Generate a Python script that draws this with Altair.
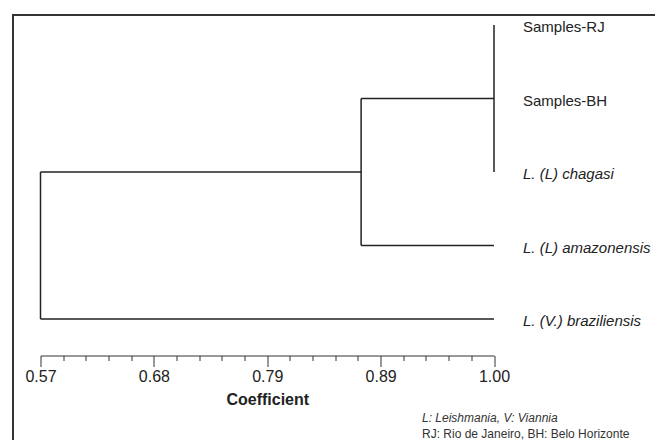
import altair as alt
import pandas as pd

# ---------------- data ----------------
leaves = ["Samples-RJ", "Samples-BH", "L. (L) chagasi", "L. (L) amazonensis", "L. (V.) braziliensis"]
leaf_coefficient = 1.00
# each merge joins existing nodes (leaf ids 0..4, then merge ids 5, 6, ...)
merge_children = [[0, 1, 2], [5, 3], [6, 4]]
merge_coefficient = [1.00, 0.874, 0.57]

major_ticks = [0.57, 0.6775, 0.785, 0.8925, 1.00]
major_labels = ["0.57", "0.68", "0.79", "0.89", "1.00"]
minor_ticks = [0.5915, 0.613, 0.6345, 0.656, 0.699, 0.7205, 0.742, 0.7635,
               0.8065, 0.828, 0.8495, 0.871, 0.914, 0.9355, 0.957, 0.9785]

axis_title = "Coefficient"
footnote_1 = "L: Leishmania, V: Viannia"
footnote_2 = "RJ: Rio de Janeiro, BH: Belo Horizonte"

# ---------------- dendrogram segments ----------------
pos = {i: (leaf_coefficient, float(i)) for i in range(len(leaves))}
segs = []
for k, (children, coef) in enumerate(zip(merge_children, merge_coefficient)):
    ys = [pos[c][1] for c in children]
    if max(ys) > min(ys):
        segs.append(dict(x=coef, x2=coef, y=min(ys), y2=max(ys)))
    for c in children:
        cx, cy = pos[c]
        if cx != coef:
            segs.append(dict(x=coef, x2=cx, y=cy, y2=cy))
    pos[len(leaves) + k] = (coef, sum(ys) / len(ys))
seg_df = pd.DataFrame(segs)

leaf_df = pd.DataFrame({
    "name": leaves,
    "x": [leaf_coefficient] * len(leaves),
    "y": [float(i) for i in range(len(leaves))],
})
leaf_df["species"] = leaf_df["name"].str.startswith("L.")

# ---------------- layout ----------------
W, H = 453.5, 340.5
PX_PER_LEAF = 73.5
TOP_GAP = 10
FONT = "Liberation Sans"
INK = "#222222"

xscale = alt.Scale(domain=[0.57, 1.00], nice=False, zero=False)
yscale = alt.Scale(domain=[-TOP_GAP / PX_PER_LEAF, (H - TOP_GAP) / PX_PER_LEAF],
                   nice=False, zero=False, reverse=True)

label_expr = " : ".join(f"datum.value == {v} ? '{l}'" for v, l in zip(major_ticks, major_labels)) + " : ''"
major_test = "indexof([" + ",".join(str(v) for v in major_ticks) + "], datum.value) >= 0"

x_axis = alt.Axis(
    values=sorted(major_ticks + minor_ticks),
    labelExpr=label_expr,
    tickSize={"condition": {"test": major_test, "value": 11}, "value": 5},
    tickColor="#333333", tickWidth=1,
    domainColor="#333333", domainWidth=1,
    labelFont=FONT, labelFontSize=16, labelColor=INK, labelPadding=2,
    labelOverlap=False, labelFlush=False, grid=False,
    title=axis_title, titleFont=FONT, titleFontSize=16, titleFontWeight="bold",
    titleColor=INK, titlePadding=7,
)

lines = alt.Chart(seg_df).mark_rule(color=INK, strokeWidth=1.5).encode(
    x=alt.X("x:Q", scale=xscale, axis=x_axis),
    x2="x2:Q",
    y=alt.Y("y:Q", scale=yscale, axis=None),
    y2="y2:Q",
)

def leaf_text(italic):
    return alt.Chart(leaf_df[leaf_df["species"] == italic]).mark_text(
        align="left", baseline="middle", dx=29, dy=2, font=FONT, fontSize=15,
        color=INK, fontStyle="italic" if italic else "normal",
    ).encode(
        x=alt.X("x:Q", scale=xscale, axis=x_axis),
        y=alt.Y("y:Q", scale=yscale, axis=None),
        text="name:N",
    )

frame = alt.Chart(alt.Data(values=[{}])).mark_rect(
    fillOpacity=0, stroke="#333333", strokeWidth=2
).encode(
    x=alt.value(-27.5), x2=alt.value(700), y=alt.value(0), y2=alt.value(600)
)

note1 = alt.Chart(alt.Data(values=[{}])).mark_text(
    align="left", baseline="middle", font=FONT, fontSize=12, fontStyle="italic", color="#333333"
).encode(x=alt.value(381.5), y=alt.value(403), text=alt.value(footnote_1))

note2 = alt.Chart(alt.Data(values=[{}])).mark_text(
    align="left", baseline="middle", font=FONT, fontSize=12, color="#333333"
).encode(x=alt.value(381.5), y=alt.value(419), text=alt.value(footnote_2))

chart = alt.layer(lines, leaf_text(False), leaf_text(True), frame, note1, note2).properties(
    width=W, height=H,
    padding={"left": 32.5, "top": 7, "right": 161, "bottom": 84.5},
    autosize="none",
    background="white",
).configure_view(stroke=None)

chart.save("out.html", embed_options={"renderer": "svg", "actions": False})
